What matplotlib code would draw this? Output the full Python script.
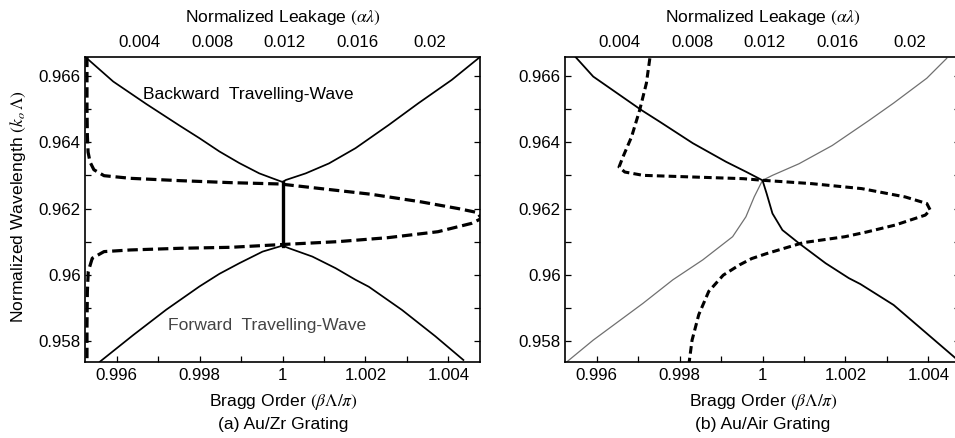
import matplotlib
matplotlib.use("Agg")
import matplotlib.pyplot as plt
from matplotlib.ticker import FixedLocator

plt.rcParams['font.family'] = ['Liberation Sans', 'DejaVu Sans']
plt.rcParams['mathtext.fontset'] = 'stix'
plt.rcParams['lines.scale_dashes'] = False

# ---------------- data: panel (a) Au/Zr grating ----------------
a_back_beta = [0.99524, 0.99592, 0.99672, 0.99752, 0.99800, 0.99848, 0.99896, 0.99944, 0.99976,
               1.0, 1.00008, 1.00056, 1.00112, 1.00176, 1.00256, 1.00328, 1.00408, 1.00476]
a_back_lam = [0.96658, 0.96583, 0.96515, 0.96450, 0.96412, 0.96372, 0.96337, 0.96306, 0.96291,
              0.96280, 0.96286, 0.96306, 0.96336, 0.96382, 0.96452, 0.96518, 0.96588, 0.96657]
a_fwd_beta = [0.99560, 0.99640, 0.99720, 0.99800, 0.99848, 0.99896, 0.99952, 1.0,
              1.00016, 1.00072, 1.00128, 1.00176, 1.00208, 1.00288, 1.00368, 1.00436]
a_fwd_lam = [0.95738, 0.95818, 0.95895, 0.95965, 0.96003, 0.96035, 0.96070, 0.96088,
             0.96080, 0.96055, 0.96020, 0.95985, 0.95964, 0.95894, 0.95815, 0.95743]
a_gap_beta = [1.0, 1.0]
a_gap_lam = [0.96280, 0.96088]
a_leak = [0.00108, 0.00108, 0.00110, 0.00114, 0.00125, 0.00146, 0.00202, 0.00349, 0.00621,
          0.00902, 0.01172, 0.01399, 0.01675, 0.01951, 0.02154, 0.02260, 0.02285, 0.02228,
          0.02044, 0.01767, 0.01491, 0.01206, 0.00902, 0.00621, 0.00349, 0.00202, 0.00137,
          0.00115, 0.00110, 0.00108, 0.00108]
a_leak_lam = [0.96658, 0.96500, 0.96420, 0.96370, 0.96340, 0.96317, 0.96299, 0.96291, 0.96284,
              0.96278, 0.96274, 0.96260, 0.96243, 0.96220, 0.96200, 0.96188, 0.96170, 0.96155,
              0.96130, 0.96112, 0.96100, 0.96092, 0.96083, 0.96080, 0.96075, 0.96070, 0.96050,
              0.96010, 0.95950, 0.95850, 0.95737]

# ---------------- data: panel (b) Au/Air grating ----------------
b_dark_beta = [0.99540, 0.99592, 0.99708, 0.99752, 0.99832, 0.99912, 0.99960, 1.0, 1.00010,
               1.00024, 1.00048, 1.00088, 1.00152, 1.00208, 1.00236, 1.00316, 1.00396, 1.00476]
b_dark_lam = [0.96670, 0.96598, 0.96497, 0.96462, 0.96397, 0.96341, 0.96311, 0.96285, 0.96245,
              0.96185, 0.96135, 0.96095, 0.96035, 0.95990, 0.95972, 0.95909, 0.95823, 0.95737]
b_gray_beta = [0.99528, 0.99592, 0.99712, 0.99784, 0.99856, 0.99928, 0.99960, 0.99980, 1.0,
               1.00024, 1.00088, 1.00168, 1.00256, 1.00316, 1.00396, 1.00444]
b_gray_lam = [0.95737, 0.95803, 0.95914, 0.95985, 0.96045, 0.96115, 0.96175, 0.96235, 0.96285,
              0.96300, 0.96335, 0.96390, 0.96465, 0.96518, 0.96593, 0.96653]
b_leak = [0.00565, 0.00546, 0.00509, 0.00464, 0.00417, 0.00395, 0.00427, 0.00528, 0.00804,
          0.01080, 0.01190, 0.01458, 0.01734, 0.01973, 0.02093, 0.02112, 0.02084, 0.01918,
          0.01760, 0.01642, 0.01411, 0.01209, 0.01127, 0.01060, 0.00970, 0.00890, 0.00835,
          0.00798, 0.00782]
b_leak_lam = [0.96653, 0.96578, 0.96497, 0.96416, 0.96356, 0.96325, 0.96310, 0.96300, 0.96295,
              0.96290, 0.96285, 0.96275, 0.96260, 0.96235, 0.96215, 0.96195, 0.96180, 0.96150,
              0.96129, 0.96115, 0.96097, 0.96064, 0.96049, 0.96030, 0.95999, 0.95950, 0.95880,
              0.95803, 0.95737]

# ---------------- ticks ----------------
beta_major = [0.996, 0.998, 1.0, 1.002, 1.004]
beta_labels = ["0.996", "0.998", "1", "1.002", "1.004"]
beta_minor = [0.997, 0.999, 1.001, 1.003]
lam_major = [0.958, 0.960, 0.962, 0.964, 0.966]
lam_labels = ["0.958", "0.96", "0.962", "0.964", "0.966"]
lam_minor = [0.959, 0.961, 0.963, 0.965]
leak_major = [0.004, 0.008, 0.012, 0.016, 0.02]
leak_labels = ["0.004", "0.008", "0.012", "0.016", "0.02"]

BETA_LIM = (0.99524, 1.00476)
LAM_LIM = (0.95737, 0.96657)
LEAK_LIM = (0.00097, 0.02276)

W, H = 955, 438
fig = plt.figure(figsize=(W / 100, H / 100), dpi=100)

TICK_FS = 12.2
LABEL_FS = 12.6


def make_panel(left_px):
    ax = fig.add_axes([left_px / W, (H - 362) / H, 395 / W, 305 / H])
    ax.set_xlim(*BETA_LIM)
    ax.set_ylim(*LAM_LIM)
    ax.xaxis.set_major_locator(FixedLocator(beta_major))
    ax.set_xticklabels(beta_labels)
    ax.xaxis.set_minor_locator(FixedLocator(beta_minor))
    ax.yaxis.set_major_locator(FixedLocator(lam_major))
    ax.set_yticklabels(lam_labels)
    ax.yaxis.set_minor_locator(FixedLocator(lam_minor))
    ax.tick_params(which='both', direction='in', top=True, right=True, length=4, width=0.9,
                   labelsize=TICK_FS, labeltop=False, labelright=False)
    ax.tick_params(axis='x', pad=4)
    ax.tick_params(axis='y', pad=3)
    for s in ax.spines.values():
        s.set_linewidth(1.2)
    ax2 = ax.twiny()
    ax2.set_xlim(*LEAK_LIM)
    ax2.xaxis.set_major_locator(FixedLocator(leak_major))
    ax2.set_xticklabels(leak_labels)
    ax2.xaxis.set_minor_locator(FixedLocator([]))
    ax2.tick_params(axis='x', length=0, pad=5, labelsize=TICK_FS)
    for s in ax2.spines.values():
        s.set_visible(False)
    return ax, ax2


# ---------------- panel (a) ----------------
axa, axa2 = make_panel(85)
axa.plot(a_back_beta, a_back_lam, color='black', lw=1.25)
axa.plot(a_fwd_beta, a_fwd_lam, color='black', lw=1.25)
axa.plot(a_gap_beta, a_gap_lam, color='black', lw=2.4)
axa2.plot(a_leak, a_leak_lam, color='black', lw=2.3, dashes=(7.5, 3.5))
axa.text(0.99663, 0.96543, "Backward  Travelling-Wave", fontsize=LABEL_FS, ha='left', va='center')
axa.text(0.99723, 0.95848, "Forward  Travelling-Wave", fontsize=LABEL_FS, ha='left', va='center',
         color='#444444')

# ---------------- panel (b) ----------------
axb, axb2 = make_panel(565)
axb.plot(b_gray_beta, b_gray_lam, color='#707070', lw=0.9)
axb.plot(b_dark_beta, b_dark_lam, color='black', lw=1.3)
axb2.plot(b_leak, b_leak_lam, color='black', lw=2.2, dashes=(5.5, 3))

# ---------------- labels ----------------
for cx in (283, 763):
    fig.text(cx / W, 1 - 18 / H, r"Normalized Leakage $(\alpha\lambda)$", fontsize=LABEL_FS,
             ha='center', va='center')
    fig.text(cx / W, 1 - 402 / H, r"Bragg Order $(\beta\Lambda/\pi)$", fontsize=LABEL_FS,
             ha='center', va='center')
fig.text(283 / W, 1 - 424 / H, "(a) Au/Zr Grating", fontsize=LABEL_FS, ha='center', va='center')
fig.text(763 / W, 1 - 424 / H, "(b) Au/Air Grating", fontsize=LABEL_FS, ha='center', va='center')
fig.text(18 / W, 1 - 207 / H, r"Normalized Wavelength $(k_o\,\Lambda)$", fontsize=LABEL_FS,
         ha='center', va='center', rotation=90)

fig.savefig("out.png", dpi=100)
